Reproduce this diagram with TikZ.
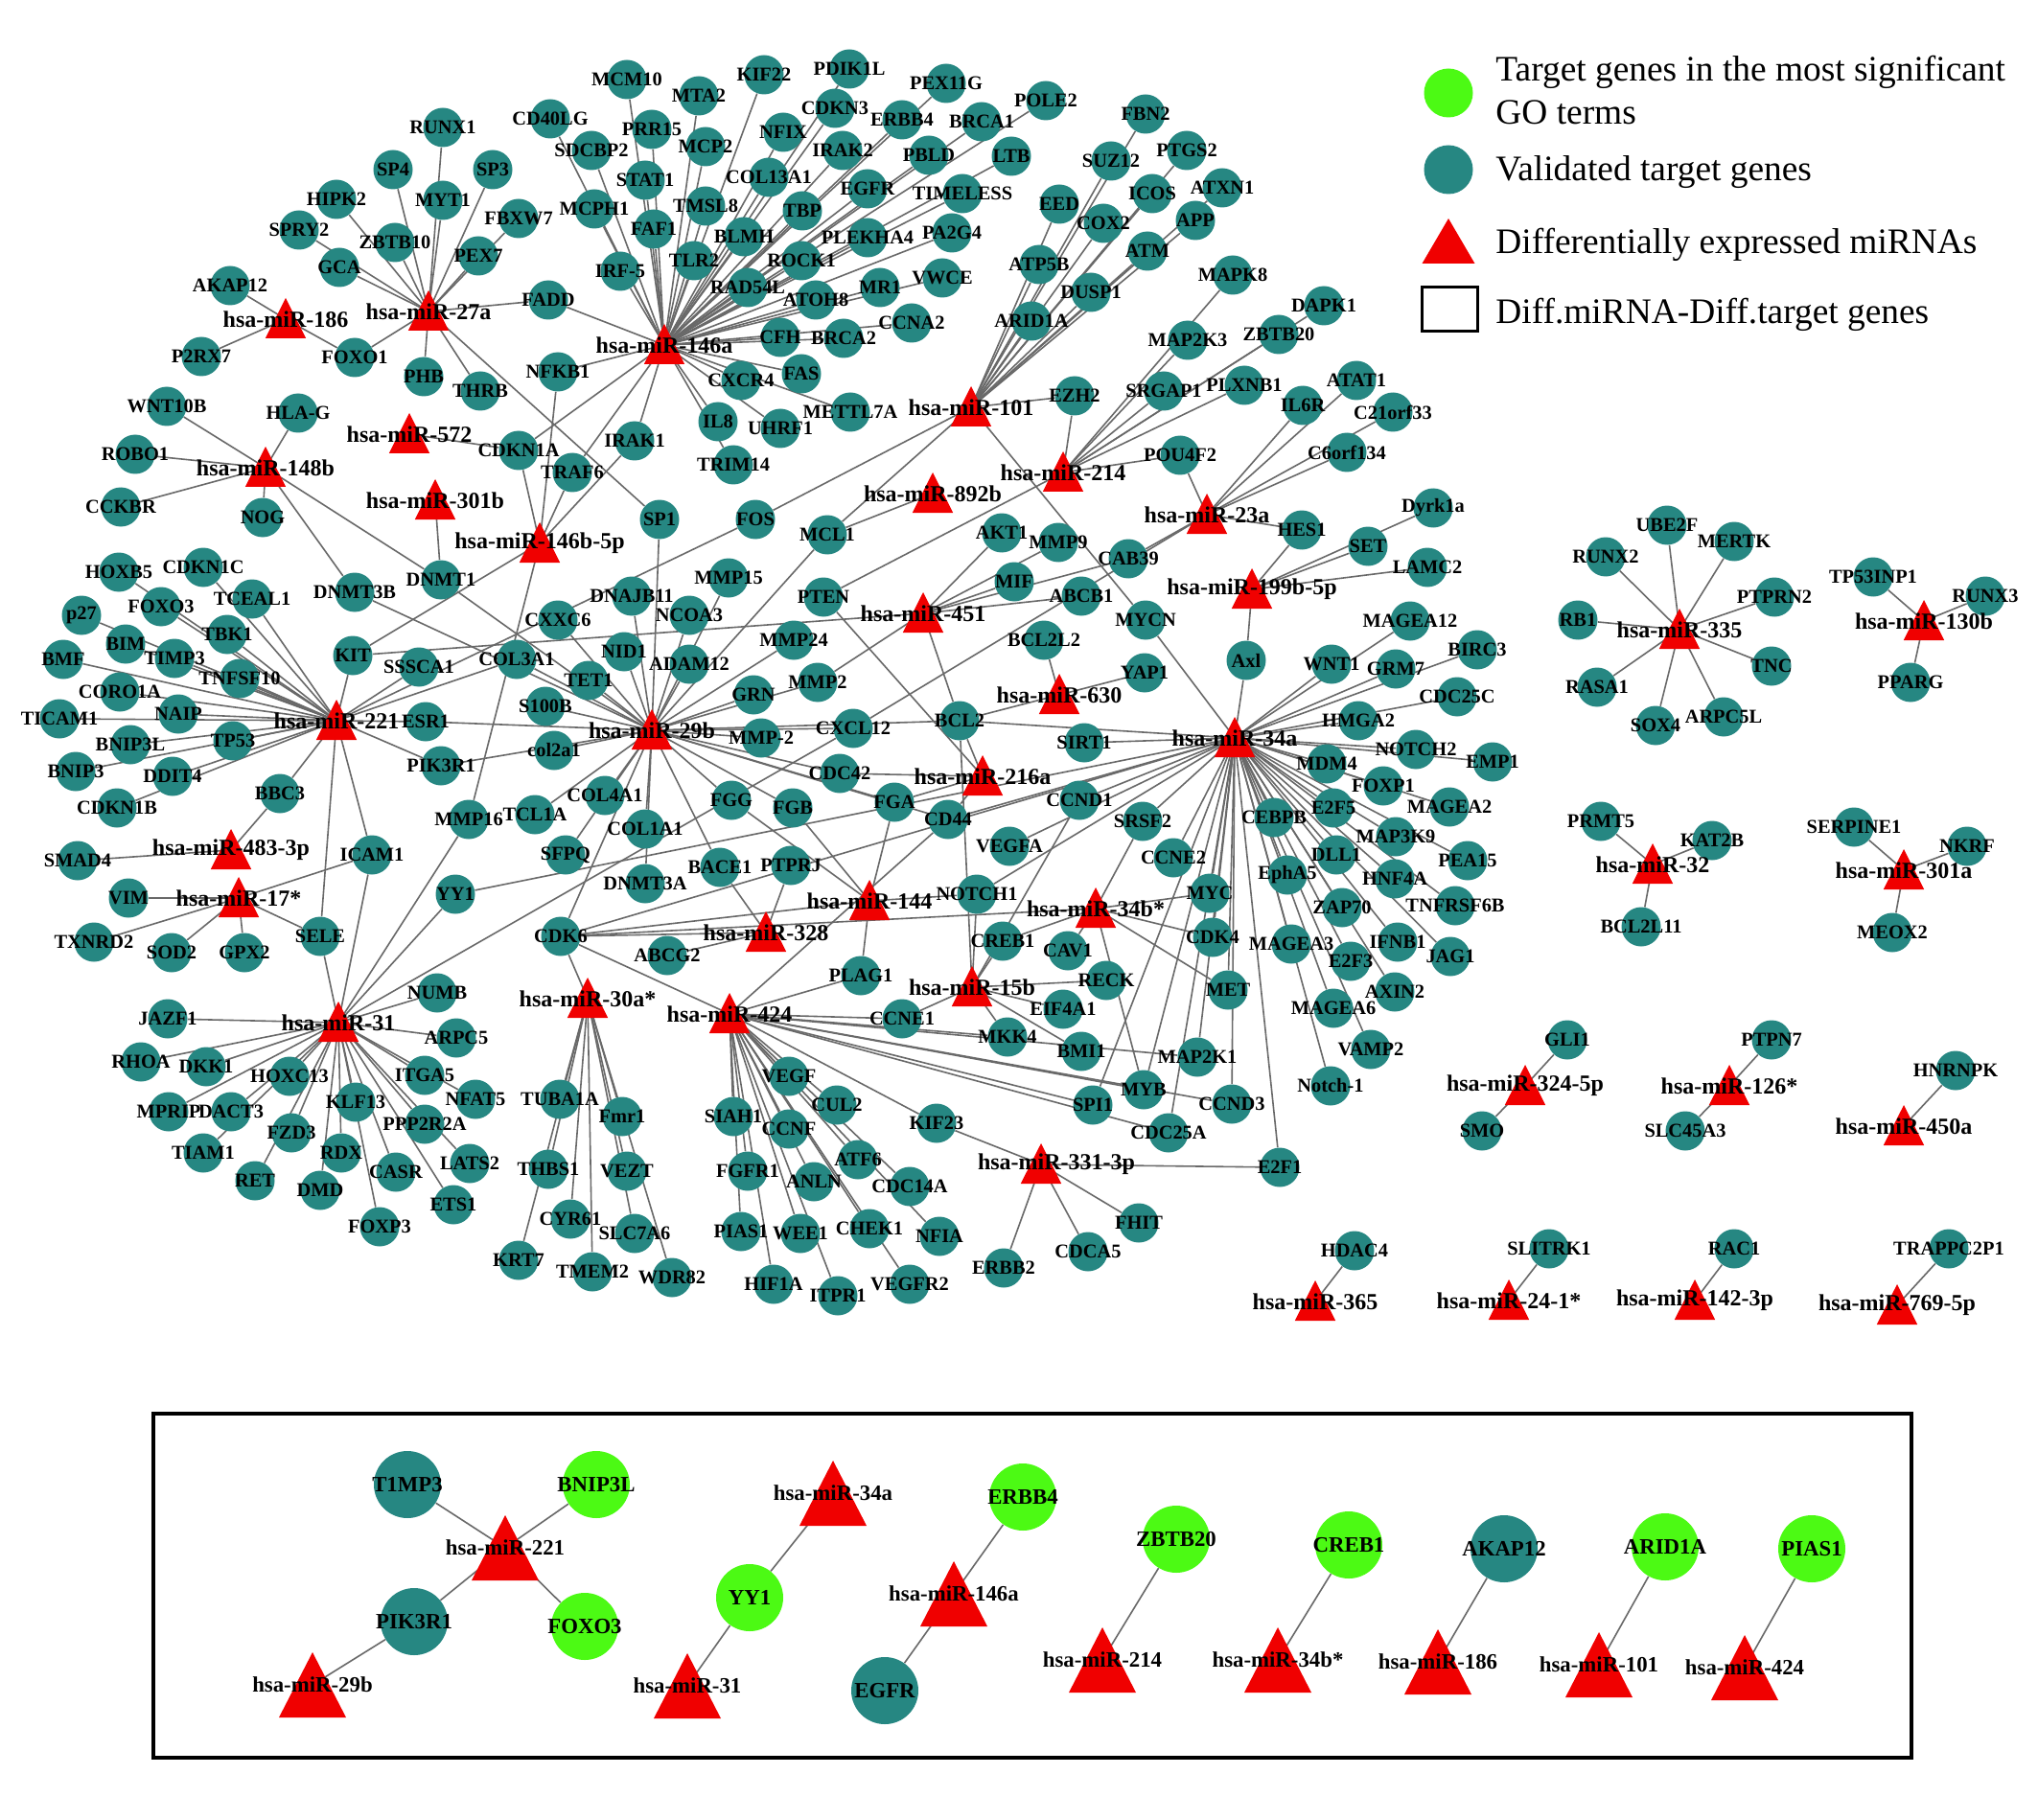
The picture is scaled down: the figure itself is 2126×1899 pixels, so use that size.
\documentclass[tikz,border=0pt]{standalone}
\usepackage{fontspec}
\usepackage{etoolbox}
\setmainfont{Liberation Serif}
\pgfdeclarelayer{edgelayer}
\pgfsetlayers{edgelayer,main}
\definecolor{geneteal}{RGB}{38,135,130}
\definecolor{gogreen}{RGB}{76,250,20}
\definecolor{mired}{RGB}{240,0,0}
\definecolor{edgegray}{RGB}{105,105,105}
\tikzset{
 gene/.style={circle,fill=geneteal,draw=none,minimum size=20.5pt,inner sep=0pt},
 glab/.style={font=\bfseries\fontsize{10.2}{11}\selectfont,inner sep=0pt,text=black},
 mlab/.style={font=\bfseries\fontsize{12}{13}\selectfont,inner sep=0pt,text=black},
 edge/.style={draw=edgegray,line width=0.8pt},
 bgene/.style={circle,fill=geneteal,draw=none,minimum size=35pt,inner sep=0pt},
 bgo/.style={circle,fill=gogreen,draw=none,minimum size=35pt,inner sep=0pt},
 blab/.style={font=\bfseries\fontsize{11.4}{12}\selectfont,inner sep=0pt,text=black},
 legtext/.style={font=\fontsize{18.7}{22}\selectfont,anchor=west,inner sep=0pt,text=black},
}
\newcommand\labellist{}
\newcommand\gn[3]{\node[gene] (#1) at (#2) {};
 \gappto\labellist{\node[glab] at (#2) {#3};}}
\newcommand\mn[4][0]{\coordinate (#2) at (#3);
 \fill[mired] (#2) ++(0,-22) -- ++(21.2,42) -- ++(-42.4,0) -- cycle;
 \gappto\labellist{\node[mlab,xshift={#1*0.5pt}] at (#3) {#4};}}
\newcommand\bgn[4]{\node[#4] (#1) at (#2) {};
 \gappto\labellist{\node[blab] at (#2) {#3};}}
\newcommand\bmn[3]{\coordinate (#1) at (#2);
 \fill[mired] (#1) ++(0,-34) -- ++(35,68) -- ++(-70,0) -- cycle;
 \gappto\labellist{\node[blab] at (#2) {#3};}}
\newcommand\ed[2]{\foreach \t in {#2} {\draw[edge] (#1) -- (\t);}}
\begin{document}
\begin{tikzpicture}[x=0.5pt,y=-0.5pt]
\useasboundingbox (0,0) rectangle (2126,1899);
% ---------- genes, left
\gn{RUNX1}{462,133}{RUNX1}
\gn{SP4}{410,177}{SP4}
\gn{SP3}{514,177}{SP3}
\gn{HIPK2}{351,208}{HIPK2}
\gn{MYT1}{462,209}{MYT1}
\gn{FBXW7}{541,228}{FBXW7}
\gn{SPRY2}{312,240}{SPRY2}
\gn{ZBTB10}{412,253}{ZBTB10}
\gn{PEX7}{499,267}{PEX7}
\gn{GCA}{354,279}{GCA}
\gn{AKAP12}{240,298}{AKAP12}
\gn{P2RX7}{210,372}{P2RX7}
\gn{FOXO1}{370,373}{FOXO1}
\gn{PHB}{442,393}{PHB}
\gn{THRB}{501,408}{THRB}
\gn{WNT10B}{174,424}{WNT10B}
\gn{HLAG}{311,431}{HLA-G}
\gn{CDKN1A}{541,470}{CDKN1A}
\gn{ROBO1}{141,474}{ROBO1}
\gn{CCKBR}{126,529}{CCKBR}
\gn{NOG}{274,540}{NOG}
\gn{HOXB5}{124,597}{HOXB5}
\gn{CDKN1C}{212,592}{CDKN1C}
\gn{DNMT3B}{370,618}{DNMT3B}
\gn{DNMT1}{460,605}{DNMT1}
\gn{TCEAL1}{263,625}{TCEAL1}
\gn{p27}{85,642}{p27}
\gn{FOXO3}{168,633}{FOXO3}
\gn{TBK1}{237,662}{TBK1}
\gn{BIM}{131,672}{BIM}
\gn{KIT}{368,684}{KIT}
\gn{BMF}{66,688}{BMF}
\gn{TIMP3}{182,687}{TIMP3}
\gn{SSSCA1}{437,696}{SSSCA1}
\gn{TNFSF10}{250,708}{TNFSF10}
\gn{CORO1A}{125,722}{CORO1A}
\gn{NAIP}{186,745}{NAIP}
\gn{TICAM1}{62,750}{TICAM1}
\gn{ESR1}{444,753}{ESR1}
\gn{BNIP3L}{136,777}{BNIP3L}
\gn{TP53}{243,773}{TP53}
\gn{BNIP3}{79,805}{BNIP3}
\gn{DDIT4}{180,810}{DDIT4}
\gn{PIK3R1}{460,799}{PIK3R1}
\gn{BBC3}{292,828}{BBC3}
\gn{CDKN1B}{122,843}{CDKN1B}
\gn{MMP16}{489,855}{MMP16}
\gn{SMAD4}{81,898}{SMAD4}
\gn{ICAM1}{388,892}{ICAM1}
\gn{VIM}{134,937}{VIM}
\gn{YY1}{475,933}{YY1}
\gn{TXNRD2}{98,983}{TXNRD2}
\gn{SELE}{334,977}{SELE}
\gn{SOD2}{179,994}{SOD2}
\gn{GPX2}{255,994}{GPX2}
\gn{NUMB}{456,1036}{NUMB}
\gn{JAZF1}{175,1063}{JAZF1}
\gn{ARPC5}{476,1083}{ARPC5}
\gn{RHOA}{147,1108}{RHOA}
\gn{DKK1}{215,1113}{DKK1}
\gn{HOXC13}{302,1123}{HOXC13}
\gn{ITGA5}{443,1122}{ITGA5}
\gn{NFAT5}{496,1147}{NFAT5}
\gn{KLF13}{371,1150}{KLF13}
\gn{MPRIP}{176,1160}{MPRIP}
\gn{DACT3}{241,1160}{DACT3}
\gn{PPP2R2A}{443,1173}{PPP2R2A}
\gn{FZD3}{304,1182}{FZD3}
\gn{TIAM1}{212,1203}{TIAM1}
\gn{RDX}{356,1203}{RDX}
\gn{LATS2}{490,1214}{LATS2}
\gn{CASR}{413,1223}{CASR}
\gn{RET}{266,1232}{RET}
\gn{DMD}{334,1242}{DMD}
\gn{ETS1}{473,1257}{ETS1}
\gn{FOXP3}{396,1280}{FOXP3}
% ---------- 146a cluster
\gn{MCM10}{654,83}{MCM10}
\gn{MTA2}{729,100}{MTA2}
\gn{KIF22}{797,78}{KIF22}
\gn{PDIK1L}{886,72}{PDIK1L}
\gn{PEX11G}{987,87}{PEX11G}
\gn{CD40LG}{574,124}{CD40LG}
\gn{PRR15}{680,135}{PRR15}
\gn{CDKN3}{871,113}{CDKN3}
\gn{ERBB4}{941,125}{ERBB4}
\gn{BRCA1}{1024,127}{BRCA1}
\gn{NFIX}{817,138}{NFIX}
\gn{SDCBP2}{617,157}{SDCBP2}
\gn{MCP2}{736,153}{MCP2}
\gn{IRAK2}{879,157}{IRAK2}
\gn{PBLD}{969,162}{PBLD}
\gn{LTB}{1055,163}{LTB}
\gn{STAT1}{673,188}{STAT1}
\gn{COL13A1}{802,185}{COL13A1}
\gn{EGFR}{905,197}{EGFR}
\gn{TIMELESS}{1004,202}{TIMELESS}
\gn{MCPH1}{620,218}{MCPH1}
\gn{TMSL8}{736,215}{TMSL8}
\gn{TBP}{837,220}{TBP}
\gn{FAF1}{682,239}{FAF1}
\gn{BLMH}{776,247}{BLMH}
\gn{PLEKHA4}{905,248}{PLEKHA4}
\gn{PA2G4}{993,243}{PA2G4}
\gn{IRF5}{647,283}{IRF-5}
\gn{TLR2}{724,272}{TLR2}
\gn{ROCK1}{836,272}{ROCK1}
\gn{RAD54L}{780,300}{RAD54L}
\gn{VWCE}{983,290}{VWCE}
\gn{MR1}{918,300}{MR1}
\gn{ATOH8}{851,313}{ATOH8}
\gn{FADD}{572,313}{FADD}
\gn{CCNA2}{951,337}{CCNA2}
\gn{CFH}{814,352}{CFH}
\gn{BRCA2}{880,353}{BRCA2}
\gn{NFKB1}{582,388}{NFKB1}
\gn{FAS}{836,390}{FAS}
\gn{CXCR4}{773,397}{CXCR4}
\gn{METTL7A}{887,430}{METTL7A}
\gn{IL8}{749,440}{IL8}
\gn{UHRF1}{814,447}{UHRF1}
\gn{IRAK1}{662,460}{IRAK1}
\gn{TRIM14}{765,485}{TRIM14}
\gn{POLE2}{1091,105}{POLE2}
% ---------- 101 / 214 / 23a cluster
\gn{FBN2}{1195,119}{FBN2}
\gn{SUZ12}{1159,168}{SUZ12}
\gn{PTGS2}{1238,157}{PTGS2}
\gn{EED}{1105,213}{EED}
\gn{ICOS}{1202,202}{ICOS}
\gn{ATXN1}{1275,196}{ATXN1}
\gn{COX2}{1151,233}{COX2}
\gn{APP}{1247,230}{APP}
\gn{ATM}{1197,262}{ATM}
\gn{ATP5B}{1084,276}{ATP5B}
\gn{MAPK8}{1286,287}{MAPK8}
\gn{DUSP1}{1138,305}{DUSP1}
\gn{DAPK1}{1381,319}{DAPK1}
\gn{ARID1A}{1076,335}{ARID1A}
\gn{MAP2K3}{1239,355}{MAP2K3}
\gn{ZBTB20}{1334,349}{ZBTB20}
\gn{EZH2}{1121,413}{EZH2}
\gn{SRGAP1}{1214,408}{SRGAP1}
\gn{PLXNB1}{1298,402}{PLXNB1}
\gn{IL6R}{1359,423}{IL6R}
\gn{ATAT1}{1415,397}{ATAT1}
\gn{C21orf33}{1453,430}{C21orf33}
\gn{POU4F2}{1231,475}{POU4F2}
\gn{C6orf134}{1405,472}{C6orf134}
% ---------- middle
\gn{TRAF6}{597,493}{TRAF6}
\gn{SP1}{688,542}{SP1}
\gn{FOS}{788,542}{FOS}
\gn{MCL1}{863,558}{MCL1}
\gn{AKT1}{1045,556}{AKT1}
\gn{MMP15}{760,603}{MMP15}
\gn{PTEN}{859,623}{PTEN}
\gn{DNAJB11}{659,622}{DNAJB11}
\gn{NCOA3}{719,642}{NCOA3}
\gn{CXXC6}{582,647}{CXXC6}
\gn{MIF}{1058,607}{MIF}
\gn{MMP9}{1104,566}{MMP9}
\gn{HES1}{1358,553}{HES1}
\gn{SET}{1427,570}{SET}
\gn{CAB39}{1177,583}{CAB39}
\gn{LAMC2}{1489,592}{LAMC2}
\gn{Dyrk1a}{1495,530}{Dyrk1a}
\gn{ABCB1}{1128,622}{ABCB1}
\gn{MYCN}{1195,647}{MYCN}
\gn{MAGEA12}{1471,648}{MAGEA12}
\gn{BCL2L2}{1089,668}{BCL2L2}
\gn{BIRC3}{1541,678}{BIRC3}
\gn{Axl}{1300,689}{Axl}
\gn{WNT1}{1389,693}{WNT1}
\gn{GRM7}{1456,698}{GRM7}
\gn{YAP1}{1194,702}{YAP1}
\gn{CDC25C}{1520,727}{CDC25C}
\gn{HMGA2}{1417,752}{HMGA2}
\gn{MMP24}{828,668}{MMP24}
\gn{NID1}{651,680}{NID1}
\gn{COL3A1}{539,688}{COL3A1}
\gn{ADAM12}{719,693}{ADAM12}
\gn{TET1}{614,710}{TET1}
\gn{MMP2}{853,712}{MMP2}
\gn{GRN}{786,725}{GRN}
\gn{S100B}{569,737}{S100B}
\gn{BCL2}{1001,752}{BCL2}
\gn{CXCL12}{890,760}{CXCL12}
\gn{MMPd2}{794,770}{MMP-2}
\gn{col2a1}{578,783}{col2a1}
\gn{SIRT1}{1131,775}{SIRT1}
\gn{NOTCH2}{1477,782}{NOTCH2}
\gn{EMP1}{1557,795}{EMP1}
\gn{MDM4}{1384,797}{MDM4}
\gn{CDC42}{876,807}{CDC42}
\gn{FOXP1}{1443,820}{FOXP1}
\gn{FGG}{763,835}{FGG}
\gn{FGB}{827,843}{FGB}
\gn{FGA}{933,837}{FGA}
\gn{COL4A1}{631,830}{COL4A1}
\gn{TCL1A}{558,850}{TCL1A}
\gn{CCND1}{1126,835}{CCND1}
\gn{MAGEA2}{1512,842}{MAGEA2}
\gn{E2F5}{1391,843}{E2F5}
\gn{CEBPB}{1329,853}{CEBPB}
\gn{SRSF2}{1192,857}{SRSF2}
\gn{CD44}{989,855}{CD44}
\gn{COL1A1}{673,865}{COL1A1}
\gn{MAP3K9}{1456,873}{MAP3K9}
\gn{VEGFA}{1053,883}{VEGFA}
\gn{DLL1}{1394,892}{DLL1}
\gn{PEA15}{1531,898}{PEA15}
\gn{CCNE2}{1224,895}{CCNE2}
\gn{SFPQ}{590,892}{SFPQ}
\gn{PTPRJ}{825,903}{PTPRJ}
\gn{BACE1}{751,905}{BACE1}
\gn{HNF4A}{1455,917}{HNF4A}
\gn{EphA5}{1343,913}{EphA5}
\gn{DNMT3A}{673,922}{DNMT3A}
\gn{NOTCH1}{1019,933}{NOTCH1}
\gn{MYC}{1262,932}{MYC}
\gn{ZAP70}{1400,947}{ZAP70}
\gn{TNFRSF6B}{1518,945}{TNFRSF6B}
\gn{CDK6}{585,977}{CDK6}
\gn{CREB1}{1046,982}{CREB1}
\gn{CAV1}{1114,992}{CAV1}
\gn{CDK4}{1265,978}{CDK4}
\gn{MAGEA3}{1347,985}{MAGEA3}
\gn{IFNB1}{1458,983}{IFNB1}
\gn{JAG1}{1513,998}{JAG1}
\gn{ABCG2}{696,997}{ABCG2}
\gn{E2F3}{1409,1003}{E2F3}
\gn{PLAG1}{898,1018}{PLAG1}
\gn{RECK}{1154,1023}{RECK}
\gn{MET}{1281,1033}{MET}
\gn{AXIN2}{1455,1035}{AXIN2}
\gn{MAGEA6}{1391,1052}{MAGEA6}
\gn{EIF4A1}{1109,1053}{EIF4A1}
\gn{CCNE1}{941,1063}{CCNE1}
\gn{MKK4}{1051,1082}{MKK4}
\gn{BMI1}{1128,1097}{BMI1}
\gn{MAP2K1}{1249,1103}{MAP2K1}
\gn{VAMP2}{1430,1095}{VAMP2}
\gn{Notchd1}{1388,1133}{Notch-1}
\gn{MYB}{1193,1137}{MYB}
\gn{SPI1}{1140,1153}{SPI1}
\gn{CCND3}{1285,1152}{CCND3}
\gn{CDC25A}{1219,1182}{CDC25A}
\gn{E2F1}{1335,1218}{E2F1}
\gn{FHIT}{1188,1276}{FHIT}
\gn{CDCA5}{1135,1306}{CDCA5}
\gn{ERBB2}{1047,1323}{ERBB2}
% ---------- 424 / 30a* cluster
\gn{VEGF}{823,1123}{VEGF}
\gn{TUBA1A}{584,1147}{TUBA1A}
\gn{Fmr1}{649,1165}{Fmr1}
\gn{CUL2}{873,1153}{CUL2}
\gn{SIAH1}{765,1165}{SIAH1}
\gn{KIF23}{977,1172}{KIF23}
\gn{CCNF}{823,1178}{CCNF}
\gn{THBS1}{572,1220}{THBS1}
\gn{VEZT}{654,1222}{VEZT}
\gn{FGFR1}{780,1222}{FGFR1}
\gn{ATF6}{895,1210}{ATF6}
\gn{ANLN}{849,1233}{ANLN}
\gn{CDC14A}{949,1238}{CDC14A}
\gn{CYR61}{595,1272}{CYR61}
\gn{SLC7A6}{662,1287}{SLC7A6}
\gn{PIAS1}{773,1285}{PIAS1}
\gn{WEE1}{835,1287}{WEE1}
\gn{CHEK1}{907,1282}{CHEK1}
\gn{NFIA}{980,1290}{NFIA}
\gn{KRT7}{541,1315}{KRT7}
\gn{TMEM2}{618,1327}{TMEM2}
\gn{WDR82}{701,1333}{WDR82}
\gn{HIF1A}{807,1340}{HIF1A}
\gn{VEGFR2}{949,1340}{VEGFR2}
\gn{ITPR1}{874,1352}{ITPR1}
% ---------- right clusters
\gn{UBE2F}{1739,548}{UBE2F}
\gn{MERTK}{1809,565}{MERTK}
\gn{RUNX2}{1675,581}{RUNX2}
\gn{TP53INP1}{1954,602}{TP53INP1}
\gn{PTPRN2}{1851,623}{PTPRN2}
\gn{RUNX3}{2071,622}{RUNX3}
\gn{RB1}{1646,647}{RB1}
\gn{TNC}{1848,695}{TNC}
\gn{RASA1}{1666,717}{RASA1}
\gn{PPARG}{1993,712}{PPARG}
\gn{ARPC5L}{1798,748}{ARPC5L}
\gn{SOX4}{1727,757}{SOX4}
\gn{PRMT5}{1670,857}{PRMT5}
\gn{SERPINE1}{1934,863}{SERPINE1}
\gn{KAT2B}{1786,877}{KAT2B}
\gn{NKRF}{2052,883}{NKRF}
\gn{BCL2L11}{1712,967}{BCL2L11}
\gn{MEOX2}{1974,973}{MEOX2}
\gn{GLI1}{1635,1085}{GLI1}
\gn{PTPN7}{1848,1085}{PTPN7}
\gn{HNRNPK}{2040,1117}{HNRNPK}
\gn{SMO}{1546,1180}{SMO}
\gn{SLC45A3}{1758,1180}{SLC45A3}
\gn{HDAC4}{1413,1305}{HDAC4}
\gn{SLITRK1}{1616,1303}{SLITRK1}
\gn{RAC1}{1809,1303}{RAC1}
\gn{TRAPPC2P1}{2033,1303}{TRAPPC2P1}
% ---------- miRNAs
\mn{m186}{298,333}{hsa-miR-186}
\mn{m27a}{447,325}{hsa-miR-27a}
\mn{m146a}{693,360}{hsa-miR-146a}
\mn{m101}{1013,425}{hsa-miR-101}
\mn{m572}{427,453}{hsa-miR-572}
\mn{m148b}{277,488}{hsa-miR-148b}
\mn{m214}{1109,493}{hsa-miR-214}
\mn{m892b}{973,515}{hsa-miR-892b}
\mn{m301b}{454,522}{hsa-miR-301b}
\mn{m23a}{1259,537}{hsa-miR-23a}
\mn{m146b}{563,567}{hsa-miR-146b-5p}
\mn{m199b}{1306,615}{hsa-miR-199b-5p}
\mn{m451}{963,640}{hsa-miR-451}
\mn{m221}{351,752}{hsa-miR-221}
\mn{m630}{1105,725}{hsa-miR-630}
\mn{m29b}{680,762}{hsa-miR-29b}
\mn{m34a}{1288,770}{hsa-miR-34a}
\mn{m216a}{1025,810}{hsa-miR-216a}
\mn{m483}{241,887}{hsa-miR-483-3p}
\mn{m17s}{249,937}{hsa-miR-17*}
\mn{m144}{907,940}{hsa-miR-144}
\mn{m34bs}{1143,948}{hsa-miR-34b*}
\mn{m328}{799,973}{hsa-miR-328}
\mn{m15b}{1014,1030}{hsa-miR-15b}
\mn{m30as}{613,1042}{hsa-miR-30a*}
\mn{m424}{761,1058}{hsa-miR-424}
\mn{m31}{353,1067}{hsa-miR-31}
\mn[16]{m331}{1086,1215}{hsa-miR-331-3p}
\mn{m365}{1372,1358}{hsa-miR-365}
\mn{m335}{1752,657}{hsa-miR-335}
\mn{m130b}{2007,648}{hsa-miR-130b}
\mn{m32}{1724,902}{hsa-miR-32}
\mn{m301a}{1986,908}{hsa-miR-301a}
\mn{m3245p}{1591,1133}{hsa-miR-324-5p}
\mn{m126s}{1804,1133}{hsa-miR-126*}
\mn{m450a}{1986,1175}{hsa-miR-450a}
\mn{m241s}{1574,1357}{hsa-miR-24-1*}
\mn{m1423p}{1768,1357}{hsa-miR-142-3p}
\mn{m7695p}{1979,1362}{hsa-miR-769-5p}
% ---------- legend
\node[circle,fill=gogreen,minimum size=25.5pt,inner sep=0pt] (lg1) at (1511,97) {};
\node[circle,fill=geneteal,minimum size=25.5pt,inner sep=0pt] (lg2) at (1511,177) {};
\coordinate (lg3) at (1511,253);
\fill[mired] (lg3) ++(0,-25) -- ++(27.5,47) -- ++(-55,0) -- cycle;
\node[draw=black,line width=1.5pt,minimum width=29pt,minimum height=23pt,inner sep=0pt] (lg4) at (1512,323) {};
\node[legtext] (lt1) at (1560,75) {Target genes in the most significant};
\node[legtext] (lt1b) at (1560,117) {GO terms};
\node[legtext] (lt2) at (1560,180) {Validated target genes};
\node[legtext] (lt3) at (1560,255) {Differentially expressed miRNAs};
\node[legtext] (lt4) at (1560,328) {Diff.miRNA-Diff.target genes};
% ---------- bottom box
\draw[black,line width=1.75pt] (160,1475) rectangle (1994,1834);
\bgn{bTIMP3}{425,1549}{T1MP3}{bgene}
\bgn{bBNIP3L}{622,1549}{BNIP3L}{bgo}
\bgn{bPIK3R1}{432,1692}{PIK3R1}{bgene}
\bgn{bFOXO3}{610,1697}{FOXO3}{bgo}
\bgn{bYY1}{782,1667}{YY1}{bgo}
\bgn{bERBB4}{1067,1562}{ERBB4}{bgo}
\bgn{bEGFR}{923,1764}{EGFR}{bgene}
\bgn{bZBTB20}{1227,1606}{ZBTB20}{bgo}
\bgn{bCREB1}{1407,1612}{CREB1}{bgo}
\bgn{bAKAP12}{1569,1616}{AKAP12}{bgene}
\bgn{bARID1A}{1737,1614}{ARID1A}{bgo}
\bgn{bPIAS1}{1890,1616}{PIAS1}{bgo}
\bmn{bm221}{527,1615}{hsa-miR-221}
\bmn{bm29b}{326,1758}{hsa-miR-29b}
\bmn{bm34a}{869,1558}{hsa-miR-34a}
\bmn{bm31}{717,1759}{hsa-miR-31}
\bmn{bm146a}{995,1663}{hsa-miR-146a}
\bmn{bm214}{1150,1732}{hsa-miR-214}
\bmn{bm34bs}{1333,1732}{hsa-miR-34b*}
\bmn{bm186}{1500,1734}{hsa-miR-186}
\bmn{bm101}{1668,1737}{hsa-miR-101}
\bmn{bm424}{1820,1740}{hsa-miR-424}
% ---------- background and edges (one layer block)
\begin{pgfonlayer}{edgelayer}
\fill[white] (0,0) rectangle (2126,1899);
\ed{m27a}{RUNX1,SP4,SP3,MYT1,ZBTB10,HIPK2,GCA,SPRY2,PEX7,FBXW7,FOXO1,PHB,THRB,FADD,SP1}
\ed{m186}{AKAP12,P2RX7,FOXO1}
\ed{m148b}{WNT10B,HLAG,ROBO1,CCKBR,NOG,DNMT3B,DNMT1}
\ed{m572}{CDKN1A}
\ed{m301b}{DNMT1}
\ed{m146b}{CDKN1A,TRAF6,NFKB1,IRAK1,KIT,MMP16}
\ed{m146a}{MCM10,MTA2,KIF22,PDIK1L,PEX11G,CD40LG,PRR15,CDKN3,ERBB4,BRCA1,NFIX,SDCBP2,MCP2,IRAK2,PBLD,LTB,STAT1,COL13A1,EGFR,TIMELESS,MCPH1,TMSL8,TBP,FAF1,BLMH,PLEKHA4,PA2G4,IRF5,TLR2,ROCK1,RAD54L,VWCE,MR1,ATOH8,FADD,CCNA2,CFH,BRCA2,NFKB1,FAS,CXCR4,METTL7A,IL8,UHRF1,IRAK1,TRIM14,POLE2,TRAF6,CDKN1A}
\ed{m101}{EZH2,ATP5B,ARID1A,EED,SUZ12,FBN2,COX2,ICOS,PTGS2,APP,ATXN1,ATM,DUSP1,MYCN,FOS,MCL1}
\ed{m214}{EZH2,MAPK8,MAP2K3,ZBTB20,DAPK1,SRGAP1,PLXNB1,POU4F2,PTEN}
\ed{m892b}{MCL1}
\ed{m23a}{POU4F2,C6orf134,C21orf33,IL6R,ATAT1,HES1,CAB39,CXCL12}
\ed{m199b}{HES1,SET,Dyrk1a,LAMC2,Axl}
\ed{m451}{AKT1,MMP9,MIF,CAB39,ABCB1,BCL2,MMP2,KIT}
\ed{m630}{BCL2L2,YAP1,BCL2}
\ed{m221}{HOXB5,FOXO3,CDKN1C,TCEAL1,p27,BIM,TBK1,BMF,TIMP3,TNFSF10,CORO1A,NAIP,TICAM1,BNIP3L,TP53,BNIP3,DDIT4,CDKN1B,BBC3,KIT,SSSCA1,ESR1,PIK3R1,ICAM1,SELE,COL3A1,FOS}
\ed{m483}{SMAD4,BBC3}
\ed{m17s}{VIM,TXNRD2,SOD2,GPX2,SELE,ICAM1}
\ed{m31}{SELE,ICAM1,MMP16,YY1,NUMB,JAZF1,ARPC5,RHOA,DKK1,HOXC13,ITGA5,NFAT5,KLF13,MPRIP,DACT3,TIAM1,PPP2R2A,FZD3,RET,RDX,LATS2,CASR,DMD,ETS1,FOXP3,CXCL12}
\ed{m29b}{DNMT3B,DNMT1,COL3A1,CXXC6,DNAJB11,NID1,TET1,S100B,col2a1,COL4A1,TCL1A,SFPQ,COL1A1,DNMT3A,BACE1,FGG,FGB,FGA,CDC42,CXCL12,MMPd2,GRN,MMP2,MMP24,ADAM12,NCOA3,MMP15,SP1,MCL1,BCL2,ESR1,PIK3R1,CD44,CDK6}
\ed{m216a}{BCL2,CDC42,FGA,PTEN,CD44}
\ed{m144}{FGA,FGB,FGG,PLAG1,CDK6,NOTCH1}
\ed{m328}{CDK6,ABCG2,BACE1,PTPRJ}
\ed{m34bs}{MYC,CDK4,MET,MYB,CREB1,CAV1,SRSF2,CDK6}
\ed{m34a}{Axl,MYCN,WNT1,MAGEA12,GRM7,BIRC3,HMGA2,CDC25C,NOTCH2,EMP1,MDM4,FOXP1,MAGEA2,E2F5,CEBPB,MAP3K9,PEA15,DLL1,HNF4A,TNFRSF6B,EphA5,ZAP70,E2F3,IFNB1,JAG1,AXIN2,MAGEA3,MAGEA6,VAMP2,Notchd1,MYC,CDK4,MET,CCND3,MAP2K1,CDC25A,SPI1,MYB,E2F1,CCNE2,SRSF2,CCND1,SIRT1,BCL2,CD44,VEGFA,CDK6,YY1,NOTCH1}
\ed{m15b}{BCL2,NOTCH1,CREB1,CCNE1,RECK,EIF4A1,MKK4,BMI1,CCND1}
\ed{m30as}{CDK6,TUBA1A,THBS1,KRT7,CYR61,TMEM2,Fmr1,VEZT,SLC7A6,WDR82}
\ed{m424}{CDK6,PLAG1,CCNE1,MKK4,MAP2K1,MYB,CCND3,SPI1,CDC25A,VEGF,CUL2,SIAH1,CCNF,KIF23,FGFR1,ATF6,ANLN,CDC14A,PIAS1,WEE1,CHEK1,NFIA,HIF1A,ITPR1,VEGFR2,CD44}
\ed{m331}{E2F1,FHIT,CDCA5,ERBB2,KIF23}
\ed{m335}{UBE2F,MERTK,RUNX2,PTPRN2,RB1,TNC,RASA1,SOX4,ARPC5L}
\ed{m130b}{TP53INP1,RUNX3,PPARG}
\ed{m32}{PRMT5,KAT2B,BCL2L11}
\ed{m301a}{SERPINE1,NKRF,MEOX2}
\ed{m3245p}{GLI1,SMO}
\ed{m126s}{PTPN7,SLC45A3}
\ed{m450a}{HNRNPK}
\ed{m365}{HDAC4}
\ed{m241s}{SLITRK1}
\ed{m1423p}{RAC1}
\ed{m7695p}{TRAPPC2P1}
\ed{bm221}{bTIMP3,bBNIP3L,bFOXO3,bPIK3R1}
\ed{bm29b}{bPIK3R1}
\ed{bm34a}{bYY1}
\ed{bm31}{bYY1}
\ed{bm146a}{bERBB4,bEGFR}
\ed{bm214}{bZBTB20}
\ed{bm34bs}{bCREB1}
\ed{bm186}{bAKAP12}
\ed{bm101}{bARID1A}
\ed{bm424}{bPIAS1}
\end{pgfonlayer}
% ---------- all labels on top
\labellist
\end{tikzpicture}
\end{document}
